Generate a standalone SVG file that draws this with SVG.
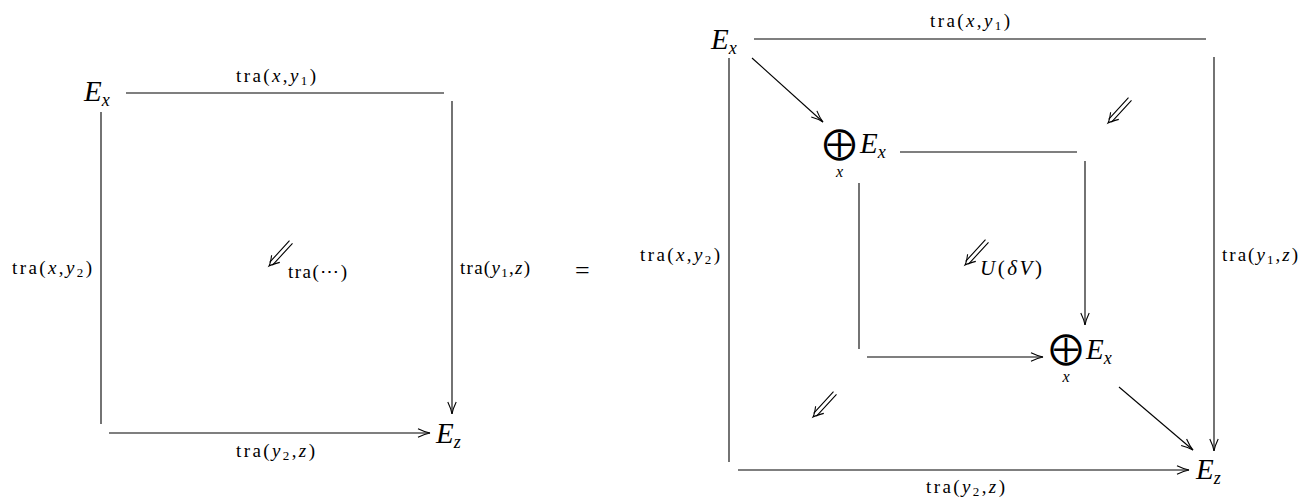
<svg xmlns="http://www.w3.org/2000/svg" xmlns:xlink="http://www.w3.org/1999/xlink" width="1303" height="498" viewBox="0 0 1303 498">
<style>
  .m { font-family: "Liberation Serif", "DejaVu Serif", serif; fill: #000; }
  .big { font-size: 29px; font-style: italic; }
  .sub { font-size: 18px; }
  .lab { font-size: 19px; }
  .it { font-style: italic; }
  .lim { font-size: 16px; font-style: italic; }
  .ln { stroke: #000; stroke-width: 1.1; fill: none; }
  .ar { marker-end: url(#head); }
  .op { font-family: "DejaVu Sans ExtraLight", "DejaVu Sans", "Noto Sans", sans-serif; font-size: 33px; fill: #000; }
</style>
<defs>
  <marker id="head" markerUnits="userSpaceOnUse" viewBox="-13 -6 15 12" markerWidth="15" markerHeight="12" refX="0" refY="0" orient="auto">
    <path d="M-12,-4.2 Q-5,-0.8 0,0 Q-5,0.8 -12,4.2" fill="none" stroke="#000" stroke-width="1.1"/>
  </marker>
  <g id="dbl" fill="none" stroke="#000" stroke-width="1.1">
    <path d="M3.5,-0.9 L23.5,-22.6 M0.6,-3.6 L20.5,-25.3"/>
    <path d="M10.8,-3.6 Q3,-1.6 0,0 Q1.6,-3 2.6,-10.8"/>
  </g>
</defs>

<g id="connectors">
  <!-- left diagram -->
  <line class="ln" x1="126" y1="93" x2="444" y2="93"/>
  <line class="ln" x1="101" y1="112" x2="101" y2="424"/>
  <line class="ln ar" x1="452" y1="101" x2="452" y2="414"/>
  <line class="ln ar" x1="109" y1="433" x2="430" y2="433"/>
  <!-- right diagram -->
  <line class="ln" x1="754" y1="39" x2="1206" y2="39"/>
  <line class="ln" x1="729" y1="58" x2="729" y2="462"/>
  <line class="ln ar" x1="1214" y1="57" x2="1214" y2="451"/>
  <line class="ln ar" x1="738" y1="470" x2="1189" y2="470"/>
  <line class="ln ar" x1="752" y1="58" x2="823" y2="122"/>
  <line class="ln" x1="900" y1="152" x2="1077" y2="152"/>
  <line class="ln ar" x1="1085" y1="161" x2="1085" y2="325"/>
  <line class="ln" x1="859" y1="183" x2="859" y2="349"/>
  <line class="ln ar" x1="867" y1="357" x2="1043" y2="357"/>
  <line class="ln ar" x1="1119" y1="387" x2="1193" y2="450"/>
  <!-- 2-cells -->
  <use xlink:href="#dbl" href="#dbl" transform="translate(269,266)"/>
  <use xlink:href="#dbl" href="#dbl" transform="translate(1108,123)"/>
  <use xlink:href="#dbl" href="#dbl" transform="translate(965,265)"/>
  <use xlink:href="#dbl" href="#dbl" transform="translate(813,417)"/>
</g>

<g id="labels" class="m lab">
  <text x="236" y="82" textLength="80">tra(<tspan class="it">x</tspan>,<tspan class="it">y</tspan><tspan font-size="13" dy="3">1</tspan><tspan dy="-3">)</tspan></text>
  <text x="12" y="274" textLength="80">tra(<tspan class="it">x</tspan>,<tspan class="it">y</tspan><tspan font-size="13" dy="3">2</tspan><tspan dy="-3">)</tspan></text>
  <text x="460" y="274" textLength="70">tra(<tspan class="it">y</tspan><tspan font-size="13" dy="3">1</tspan><tspan dy="-3">,</tspan><tspan class="it">z</tspan>)</text>
  <text x="236" y="457" textLength="79">tra(<tspan class="it">y</tspan><tspan font-size="13" dy="3">2</tspan><tspan dy="-3">,</tspan><tspan class="it">z</tspan>)</text>
  <text x="288" y="278" textLength="59">tra(⋯)</text>
  <text x="575" y="279" font-size="26">=</text>
  <text x="930" y="27" textLength="80">tra(<tspan class="it">x</tspan>,<tspan class="it">y</tspan><tspan font-size="13" dy="3">1</tspan><tspan dy="-3">)</tspan></text>
  <text x="640" y="261" textLength="80">tra(<tspan class="it">x</tspan>,<tspan class="it">y</tspan><tspan font-size="13" dy="3">2</tspan><tspan dy="-3">)</tspan></text>
  <text x="1222" y="261" textLength="76">tra(<tspan class="it">y</tspan><tspan font-size="13" dy="3">1</tspan><tspan dy="-3">,</tspan><tspan class="it">z</tspan>)</text>
  <text x="926" y="493" textLength="79">tra(<tspan class="it">y</tspan><tspan font-size="13" dy="3">2</tspan><tspan dy="-3">,</tspan><tspan class="it">z</tspan>)</text>
  <text x="980" y="275" font-size="21" textLength="62"><tspan class="it">U</tspan>(<tspan class="it">δV</tspan>)</text>
</g>

<g id="node-left-Ex" class="m"><text x="84" y="101" class="big">E<tspan class="sub" dy="5">x</tspan></text></g>
<g id="node-left-Ez" class="m"><text x="436" y="443" class="big">E<tspan class="sub" dy="5">z</tspan></text></g>
<g id="node-right-Ex" class="m"><text x="711" y="49" class="big">E<tspan class="sub" dy="5">x</tspan></text></g>
<g id="node-right-Ez" class="m"><text x="1196" y="479" class="big">E<tspan class="sub" dy="5">z</tspan></text></g>
<g id="node-sum-top">
  <text class="op" x="839.5" y="154" text-anchor="middle">⨁</text>
  <text class="m big" x="860" y="153">E<tspan class="sub" dy="5">x</tspan></text>
  <text class="m lim" x="839.5" y="177" text-anchor="middle">x</text>
</g>
<g id="node-sum-bottom">
  <text class="op" x="1066" y="359" text-anchor="middle">⨁</text>
  <text class="m big" x="1086" y="359">E<tspan class="sub" dy="5">x</tspan></text>
  <text class="m lim" x="1066" y="382" text-anchor="middle">x</text>
</g>
</svg>
